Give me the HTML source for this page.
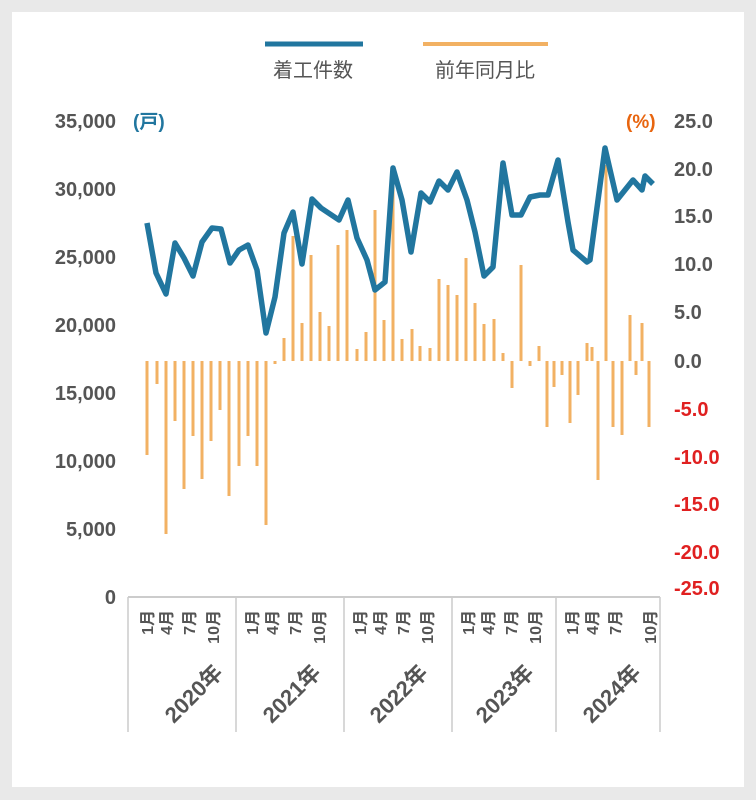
<!DOCTYPE html>
<html><head><meta charset="utf-8"><style>
html,body{margin:0;padding:0;background:#e9e9e9;}
svg{display:block;}
text{font-family:"Liberation Sans","Noto Sans CJK JP",sans-serif;}
</style></head><body>
<svg width="756" height="800" viewBox="0 0 756 800" xmlns="http://www.w3.org/2000/svg">
<rect x="0" y="0" width="756" height="800" fill="#e9e9e9"/>
<rect x="12" y="12" width="732" height="775" fill="#fff"/>
<line x1="265" y1="44" x2="363" y2="44" stroke="#21769f" stroke-width="5"/>
<text x="313" y="77" font-size="20" fill="#555" text-anchor="middle">着工件数</text>
<line x1="423" y1="44" x2="548" y2="44" stroke="#f2b163" stroke-width="4"/>
<text x="485" y="77" font-size="20" fill="#555" text-anchor="middle">前年同月比</text>
<g font-size="20" font-weight="bold" fill="#555" text-anchor="end">
<text x="116" y="128">35,000</text><text x="116" y="196">30,000</text><text x="116" y="264">25,000</text>
<text x="116" y="332">20,000</text><text x="116" y="400">15,000</text><text x="116" y="468">10,000</text>
<text x="116" y="536">5,000</text><text x="116" y="604">0</text>
</g>
<text x="133" y="128" font-size="19" font-weight="bold" fill="#21769f">(戸)</text>
<text x="626" y="128" font-size="19" font-weight="bold" fill="#e8650f">(%)</text>
<g font-size="20" font-weight="bold" text-anchor="start">
<text x="674" y="128" fill="#555">25.0</text><text x="674" y="176" fill="#555">20.0</text>
<text x="674" y="223" fill="#555">15.0</text><text x="674" y="271" fill="#555">10.0</text>
<text x="674" y="319" fill="#555">5.0</text><text x="674" y="368" fill="#555">0.0</text>
<text x="674" y="416" fill="#e02020">-5.0</text><text x="674" y="464" fill="#e02020">-10.0</text>
<text x="674" y="511" fill="#e02020">-15.0</text><text x="674" y="559" fill="#e02020">-20.0</text>
<text x="674" y="595" fill="#e02020">-25.0</text>
</g>
<g stroke="#f2b163" stroke-width="3">
<line x1="147" y1="361" x2="147" y2="455"/><line x1="157" y1="361" x2="157" y2="384"/>
<line x1="166" y1="361" x2="166" y2="534"/><line x1="175" y1="361" x2="175" y2="421"/>
<line x1="184" y1="361" x2="184" y2="489"/><line x1="193" y1="361" x2="193" y2="436"/>
<line x1="202" y1="361" x2="202" y2="479"/><line x1="211" y1="361" x2="211" y2="441"/>
<line x1="220" y1="361" x2="220" y2="410"/><line x1="229" y1="361" x2="229" y2="496"/>
<line x1="239" y1="361" x2="239" y2="466"/><line x1="248" y1="361" x2="248" y2="436"/>
<line x1="257" y1="361" x2="257" y2="466"/><line x1="266" y1="361" x2="266" y2="525"/>
<line x1="275" y1="361" x2="275" y2="364"/><line x1="284" y1="361" x2="284" y2="338"/>
<line x1="293" y1="361" x2="293" y2="236"/><line x1="302" y1="361" x2="302" y2="323"/>
<line x1="311" y1="361" x2="311" y2="255"/><line x1="320" y1="361" x2="320" y2="312"/>
<line x1="329" y1="361" x2="329" y2="326"/><line x1="338" y1="361" x2="338" y2="245"/>
<line x1="347" y1="361" x2="347" y2="230"/><line x1="357" y1="361" x2="357" y2="349"/>
<line x1="366" y1="361" x2="366" y2="332"/><line x1="375" y1="361" x2="375" y2="210"/>
<line x1="384" y1="361" x2="384" y2="320"/><line x1="393" y1="361" x2="393" y2="170"/>
<line x1="402" y1="361" x2="402" y2="339"/><line x1="412" y1="361" x2="412" y2="329"/>
<line x1="420" y1="361" x2="420" y2="346"/><line x1="430" y1="361" x2="430" y2="348"/>
<line x1="439" y1="361" x2="439" y2="279"/><line x1="448" y1="361" x2="448" y2="285"/>
<line x1="457" y1="361" x2="457" y2="295"/><line x1="466" y1="361" x2="466" y2="258"/>
<line x1="475" y1="361" x2="475" y2="303"/><line x1="484" y1="361" x2="484" y2="324"/>
<line x1="494" y1="361" x2="494" y2="319"/><line x1="503" y1="361" x2="503" y2="353"/>
<line x1="512" y1="361" x2="512" y2="388"/><line x1="521" y1="361" x2="521" y2="265"/>
<line x1="530" y1="361" x2="530" y2="366"/><line x1="539" y1="361" x2="539" y2="346"/>
<line x1="547" y1="361" x2="547" y2="427"/><line x1="554" y1="361" x2="554" y2="387"/>
<line x1="562" y1="361" x2="562" y2="375"/><line x1="570" y1="361" x2="570" y2="423"/>
<line x1="578" y1="361" x2="578" y2="395"/><line x1="587" y1="361" x2="587" y2="343"/>
<line x1="592" y1="361" x2="592" y2="347"/><line x1="598" y1="361" x2="598" y2="480"/>
<line x1="606" y1="361" x2="606" y2="165"/><line x1="613" y1="361" x2="613" y2="427"/>
<line x1="622" y1="361" x2="622" y2="435"/><line x1="630" y1="361" x2="630" y2="315"/>
<line x1="636" y1="361" x2="636" y2="375"/><line x1="642" y1="361" x2="642" y2="323"/>
<line x1="649" y1="361" x2="649" y2="427"/>
</g>
<polyline fill="none" stroke="#21769f" stroke-width="5.5" stroke-linejoin="round"
points="147,223 156,273 166,294 175,243 184,258 193,276 202,242 212,228 221,229 230,263 239,250 248,245 257,270 266,333 275,297 284,233 293,212 302,264 312,199 321,208 330,214 339,220 348,200 357,238 367,260 375,290 385,282 393,168 402,200 411,252 421,193 430,202 439,181 448,190 457,172 467,200 475,232 484,276 493,267 503,163 512,215 521,215 530,197 540,195 548,195 558,160 568,222 573,250 587,262 590,260 605,148 617,200 625,190 633,180 642,190 645,176 653,184"/>
<line x1="128" y1="597" x2="660" y2="597" stroke="#ccc" stroke-width="2"/>
<g stroke="#ccc" stroke-width="1.5">
<line x1="128" y1="597" x2="128" y2="732"/><line x1="236" y1="597" x2="236" y2="732"/>
<line x1="344" y1="597" x2="344" y2="732"/><line x1="452" y1="597" x2="452" y2="732"/>
<line x1="556" y1="597" x2="556" y2="732"/><line x1="660" y1="597" x2="660" y2="732"/>
</g>
<g font-size="16" font-weight="bold" fill="#555" text-anchor="end">
<text transform="translate(153,610) rotate(-90)">1月</text><text transform="translate(172,610) rotate(-90)">4月</text><text transform="translate(195,610) rotate(-90)">7月</text><text transform="translate(219,610) rotate(-90)">10月</text>
<text transform="translate(258,610) rotate(-90)">1月</text><text transform="translate(278,610) rotate(-90)">4月</text><text transform="translate(301,610) rotate(-90)">7月</text><text transform="translate(325,610) rotate(-90)">10月</text>
<text transform="translate(366,610) rotate(-90)">1月</text><text transform="translate(386,610) rotate(-90)">4月</text><text transform="translate(409,610) rotate(-90)">7月</text><text transform="translate(433,610) rotate(-90)">10月</text>
<text transform="translate(474,610) rotate(-90)">1月</text><text transform="translate(494,610) rotate(-90)">4月</text><text transform="translate(517,610) rotate(-90)">7月</text><text transform="translate(541,610) rotate(-90)">10月</text>
<text transform="translate(578,610) rotate(-90)">1月</text><text transform="translate(598,610) rotate(-90)">4月</text><text transform="translate(621,610) rotate(-90)">7月</text><text transform="translate(656,610) rotate(-90)">10月</text>
</g>
<g font-size="22" font-weight="bold" fill="#555" text-anchor="middle">
<text transform="translate(199,699) rotate(-45)">2020年</text>
<text transform="translate(297,699) rotate(-45)">2021年</text>
<text transform="translate(404,699) rotate(-45)">2022年</text>
<text transform="translate(510,699) rotate(-45)">2023年</text>
<text transform="translate(617,699) rotate(-45)">2024年</text>
</g>
</svg>
</body></html>
